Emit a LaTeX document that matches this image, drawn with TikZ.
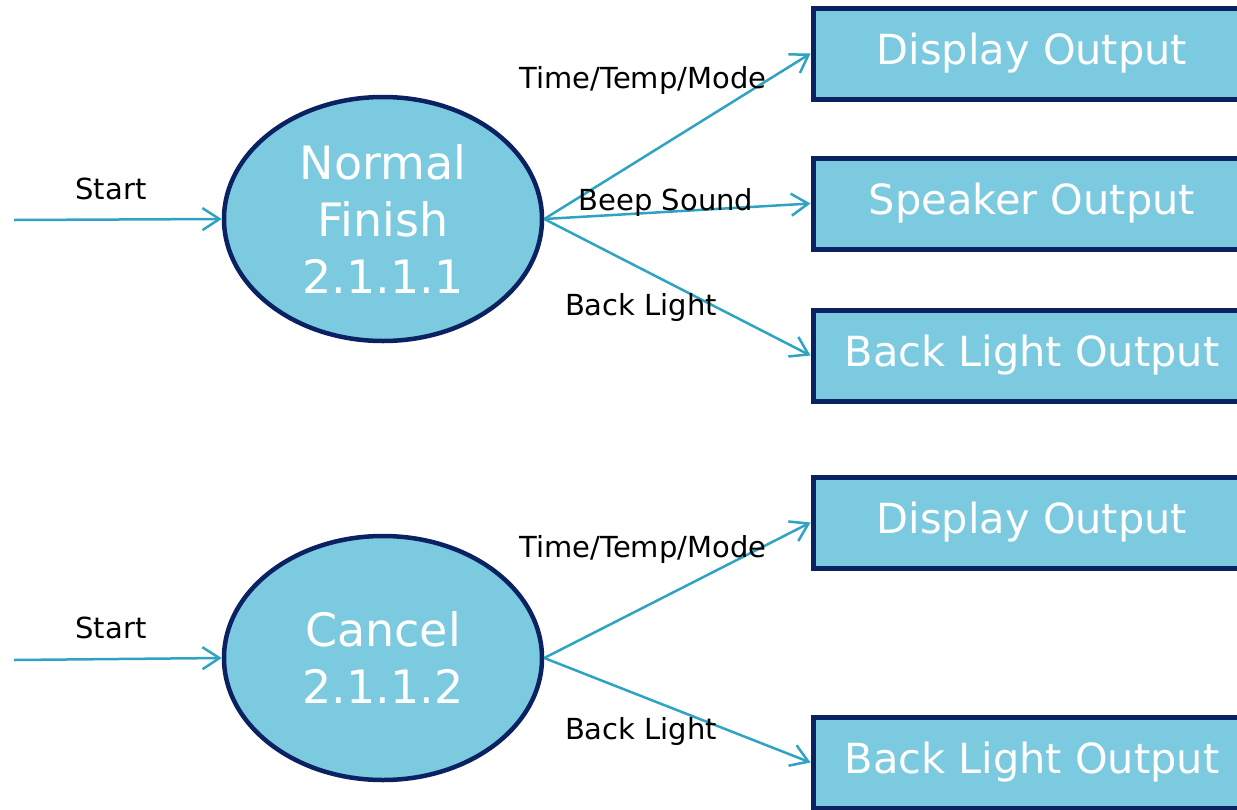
\documentclass[tikz,border=0pt]{standalone}
\usepackage{fontspec}
\setmainfont{DejaVu Sans}
\usetikzlibrary{arrows.meta,shapes.geometric}
\definecolor{fillblue}{HTML}{7BCAE0}
\definecolor{navy}{HTML}{0B2262}
\definecolor{flow}{HTML}{2FA3C2}
\tikzset{
  proc/.style={ellipse, draw=navy, line width=4.5pt, fill=fillblue, minimum width=318pt, minimum height=244pt, inner sep=0pt, text=white, align=center, font=\fontsize{46}{57}\selectfont},
  outbox/.style={rectangle, draw=navy, line width=5pt, fill=fillblue, minimum width=438pt, minimum height=91pt, inner sep=0pt, text=white, font=\fontsize{41.5}{48}\selectfont},
  flowline/.style={draw=flow, line width=2.5pt, -{Straight Barb[length=17pt,width=22pt,line width=2.5pt]}},
  lbl/.style={font=\fontsize{29}{34}\selectfont, text=black, inner sep=0pt},
}
\begin{document}
\begin{tikzpicture}[x=1pt,y=-1pt]
\clip (0,0) rectangle (1237,809);
\fill[white] (0,0) rectangle (1237,809);
% top group
\node[proc] (e1) at (383,219) {Normal\\Finish\\2.1.1.1};
\node[outbox] (b1) at (1032,53.5) {Display Output};
\node[outbox] (b2) at (1032,203.5) {Speaker Output};
\node[outbox] (b3) at (1032,355.5) {Back Light Output};
\coordinate (s1) at (14,220);
\draw[flowline] (s1) -- (e1.west);
\draw[flowline] (e1.east) -- (b1.west);
\draw[flowline] (e1.east) -- (b2.west);
\draw[flowline] (e1.east) -- (b3.west);
\node[lbl] (l1) at (111,189) {Start};
\node[lbl] (l2) at (643,80) {Time/Temp/Mode};
\node[lbl] (l3) at (666,202) {Beep Sound};
\node[lbl] (l4) at (641,307) {Back Light};
% bottom group
\node[proc] (e2) at (383,658) {Cancel\\2.1.1.2};
\node[outbox] (b4) at (1032,522.5) {Display Output};
\node[outbox] (b5) at (1032,762.5) {Back Light Output};
\coordinate (s2) at (14,660);
\draw[flowline] (s2) -- (e2.west);
\draw[flowline] (e2.east) -- (b4.west);
\draw[flowline] (e2.east) -- (b5.west);
\node[lbl] (l5) at (111,628) {Start};
\node[lbl] (l6) at (643,549) {Time/Temp/Mode};
\node[lbl] (l7) at (641,731) {Back Light};
\end{tikzpicture}
\end{document}
